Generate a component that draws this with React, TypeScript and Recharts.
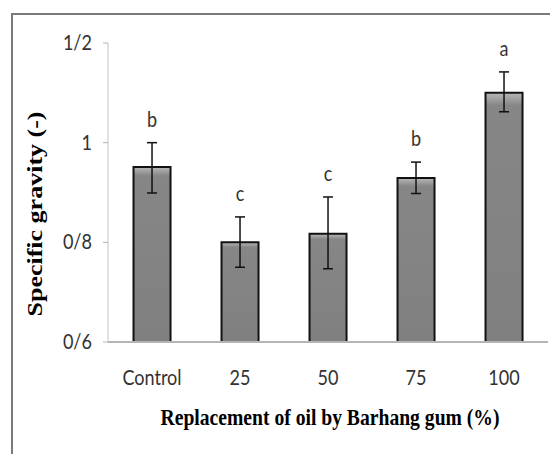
import React from 'react';
import { ComposedChart, Bar, Line, XAxis, YAxis, ErrorBar, LabelList } from 'recharts';

const categories = ['Control', '25', '50', '75', '100'];
const gravity = [0.951, 0.8, 0.817, 0.929, 1.1];
const errLow = [0.052, 0.05, 0.07, 0.031, 0.038];
const errHigh = [0.049, 0.051, 0.074, 0.032, 0.042];
const letters = ['b', 'c', 'c', 'b', 'a'];
const yTicks = [0.6, 0.8, 1.0, 1.2];
const yTickLabels = ['0/6', '0/8', '1', '1/2'];

const data = categories.map((name, i) => ({
  name,
  value: gravity[i],
  err: [errLow[i], errHigh[i]],
  top: gravity[i] + errHigh[i],
  letter: letters[i],
}));

const tickFont = 'Lato, "Open Sans", sans-serif';
const titleFont = '"Liberation Serif", "Times New Roman", serif';

// narrow-ish text to mimic Calibri
const SlimText = ({ x, y, anchor, children }: any) => (
  <text
    transform={`translate(${x}, ${y}) scale(0.86, 1)`}
    textAnchor={anchor}
    fontFamily={tickFont}
    fontSize={21}
    fill="#333"
  >
    {children}
  </text>
);

const XTick = ({ x, y, payload }: any) => (
  <SlimText x={x} y={y + 43} anchor="middle">{payload.value}</SlimText>
);

const YTick = ({ x, y, payload }: any) => (
  <SlimText x={x} y={y + 7} anchor="end">{yTickLabels[yTicks.indexOf(payload.value)]}</SlimText>
);

const Letter = ({ x, y, width, value }: any) => (
  <SlimText x={x + width / 2} y={y - 16} anchor="middle">{value}</SlimText>
);

export default function App() {
  return (
    <div style={{ position: 'relative', width: 550, height: 446, overflow: 'hidden', background: '#fff' }}>
      <div
        style={{
          position: 'absolute',
          left: 3,
          top: 5,
          width: 700,
          height: 700,
          borderLeft: '2px solid #7a7a7a',
          borderTop: '2px solid #7a7a7a',
        }}
      />
      <div style={{ position: 'absolute', left: 0, top: 0 }}>
        <ComposedChart
          width={550}
          height={446}
          data={data}
          margin={{ top: 35, right: 10, bottom: 0, left: 40 }}
          barCategoryGap="29%"
        >
          <defs>
            <linearGradient id="barFill" x1="0" y1="0" x2="0" y2="1">
              <stop offset="0%" stopColor="#b8b8b8" />
              <stop offset="5%" stopColor="#868686" />
              <stop offset="100%" stopColor="#808080" />
            </linearGradient>
          </defs>
          <XAxis
            dataKey="name"
            height={112}
            tickLine={false}
            tickSize={0}
            tickMargin={0}
            axisLine={{ stroke: '#b5b5b5', strokeWidth: 2 }}
            tick={<XTick />}
            interval={0}
            label={{
              content: () => (
                <text
                  x={330 - 8}
                  y={425 - 8}
                  textAnchor="middle"
                  fontFamily={titleFont}
                  fontWeight="bold"
                  fontSize={23}
                  textLength={339}
                  lengthAdjust="spacingAndGlyphs"
                  fill="#000"
                >
                  Replacement of oil by Barhang gum (%)
                </text>
              ),
            }}
          />
          <YAxis
            width={60}
            domain={[0.6, 1.2]}
            ticks={yTicks}
            tickSize={5}
            tickMargin={11}
            tickLine={{ stroke: '#b5b5b5' }}
            axisLine={{ stroke: '#c4c4c4' }}
            tick={<YTick />}
            allowDataOverflow
            label={{
              content: () => (
                <text
                  x={0}
                  y={0}
                  transform={`translate(${42 - 8}, ${214 - 8}) rotate(-90)`}
                  textAnchor="middle"
                  fontFamily={titleFont}
                  fontWeight="bold"
                  fontSize={22}
                  textLength={205}
                  lengthAdjust="spacingAndGlyphs"
                  fill="#000"
                >
                  Specific gravity (-)
                </text>
              ),
            }}
          />
          <Bar dataKey="value" fill="url(#barFill)" stroke="#111" strokeWidth={2} isAnimationActive={false}>
            <ErrorBar dataKey="err" width={5} stroke="#111" strokeWidth={1.5} direction="y" />
          </Bar>
          <Line
            dataKey="top"
            stroke="none"
            dot={false}
            activeDot={false}
            legendType="none"
            isAnimationActive={false}
          >
            <LabelList dataKey="letter" content={<Letter />} />
          </Line>
        </ComposedChart>
      </div>
    </div>
  );
}
